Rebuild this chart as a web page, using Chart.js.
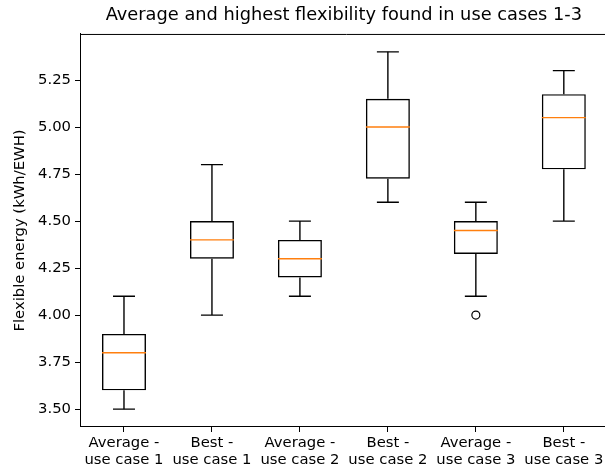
<!DOCTYPE html>
<html>
<head>
<meta charset="utf-8">
<script src="https://cdn.jsdelivr.net/npm/chart.js@4/dist/chart.umd.min.js"></script>
<style>
  html, body { margin: 0; padding: 0; overflow: hidden; background: #fff; }
  #wrap { width: 613px; height: 470px; }
</style>
</head>
<body>
<div id="wrap"><canvas id="chart" width="613" height="470"></canvas></div>
<script>
// box plot values
const categories = [
    ['Average -', 'use case 1'],
    ['Best -', 'use case 1'],
    ['Average -', 'use case 2'],
    ['Best -', 'use case 2'],
    ['Average -', 'use case 3'],
    ['Best -', 'use case 3']
];
const whiskerLow  = [3.5, 4.0, 4.1, 4.6,   4.1,   4.5];
const q1          = [3.6, 4.3, 4.2, 4.725, 4.325, 4.775];
const medians     = [3.8, 4.4, 4.3, 5.0,   4.45,  5.05];
const q3          = [3.9, 4.5, 4.4, 5.15,  4.5,   5.175];
const whiskerHigh = [4.1, 4.8, 4.5, 5.4,   4.6,   5.3];
const outliers    = [[], [], [], [], [4.0], []];
const yTicks = [3.5, 3.75, 4.0, 4.25, 4.5, 4.75, 5.0, 5.25];

const FONT = 'DejaVu Sans';
const positions = categories.map((c, i) => i + 1);

// segments separated by gaps
function segments(list) {
    const out = [];
    list.forEach(seg => {
        out.push(seg[0], seg[1], { x: seg[0].x, y: null });
    });
    return out;
}

const whiskerData = segments(positions.flatMap((p, i) => [
    [{ x: p, y: whiskerLow[i] }, { x: p, y: q1[i] }],
    [{ x: p, y: q3[i] }, { x: p, y: whiskerHigh[i] }]
]));
const capData = segments(positions.flatMap((p, i) => [
    [{ x: p - 0.125, y: whiskerLow[i] }, { x: p + 0.125, y: whiskerLow[i] }],
    [{ x: p - 0.125, y: whiskerHigh[i] }, { x: p + 0.125, y: whiskerHigh[i] }]
]));
const medianData = segments(positions.map((p, i) =>
    [{ x: p - 0.25, y: medians[i] }, { x: p + 0.25, y: medians[i] }]
));
const outlierData = positions.flatMap((p, i) => outliers[i].map(v => ({ x: p, y: v })));

// top spine (right one falls outside the picture)
const framePlugin = {
    id: 'frame',
    afterDraw(chart) {
        const { ctx, chartArea: a } = chart;
        ctx.save();
        ctx.strokeStyle = '#000';
        ctx.lineWidth = 1;
        ctx.beginPath();
        ctx.moveTo(a.left, a.top + 0.5);
        ctx.lineTo(chart.width, a.top + 0.5);
        ctx.stroke();
        ctx.restore();
    }
};

const lineStyle = {
    type: 'line',
    borderColor: '#000',
    borderWidth: 1.4,
    pointRadius: 0,
    spanGaps: false,
    fill: false
};

new Chart(document.getElementById('chart'), {
    type: 'bar',
    data: {
        datasets: [
            {
                type: 'bar',
                data: positions.map((p, i) => ({ x: p, y: [q1[i], q3[i]] })),
                backgroundColor: 'rgba(0,0,0,0)',
                borderColor: '#000',
                borderWidth: 1.4,
                borderSkipped: false,
                barPercentage: 0.5,
                categoryPercentage: 1,
                order: 4
            },
            { ...lineStyle, data: whiskerData, order: 3 },
            { ...lineStyle, data: capData, order: 2 },
            { ...lineStyle, data: medianData, borderColor: '#ff7f0e', order: 1 },
            {
                type: 'scatter',
                data: outlierData,
                pointStyle: 'circle',
                pointRadius: 4,
                borderColor: '#000',
                borderWidth: 1.2,
                backgroundColor: 'rgba(0,0,0,0)',
                order: 0
            }
        ]
    },
    options: {
        responsive: false,
        animation: false,
        layout: { padding: 0 },
        plugins: {
            legend: { display: false },
            tooltip: { enabled: false },
            title: {
                display: true,
                fullSize: false,
                text: 'Average and highest flexibility found in use cases 1-3',
                color: '#000',
                font: { family: FONT, size: 17.8, weight: 'normal' },
                padding: { top: 5, bottom: 7.6 }
            }
        },
        scales: {
            x: {
                type: 'linear',
                offset: false,
                min: 0.5,
                max: 6.5,
                afterBuildTicks: axis => { axis.ticks = positions.map(v => ({ value: v })); },
                afterFit: axis => {
                    axis.height = 43;
                    axis.paddingLeft = 0;
                    axis.paddingRight = 0;
                },
                grid: { offset: false, drawOnChartArea: false, drawTicks: true, tickLength: 5, tickColor: '#000' },
                border: { display: true, color: '#000', width: 1 },
                ticks: {
                    color: '#000',
                    padding: 3,
                    maxRotation: 0,
                    autoSkip: false,
                    font: { family: FONT, size: 14.8, lineHeight: 1.13 },
                    callback: (value, index) => categories[index]
                }
            },
            y: {
                type: 'linear',
                min: 3.405,
                max: 5.495,
                afterBuildTicks: axis => { axis.ticks = yTicks.map(v => ({ value: v })); },
                afterFit: axis => { axis.width = 80; },
                grid: { drawOnChartArea: false, drawTicks: true, tickLength: 5, tickColor: '#000' },
                border: { display: true, color: '#000', width: 1 },
                ticks: {
                    color: '#000',
                    padding: 4,
                    font: { family: FONT, size: 14.8 },
                    callback: v => v.toFixed(2)
                },
                title: {
                    display: true,
                    text: 'Flexible energy (kWh/EWH)',
                    color: '#000',
                    font: { family: FONT, size: 14.8 },
                    padding: { top: 11, bottom: 0 }
                }
            }
        }
    },
    plugins: [framePlugin]
});
</script>
</body>
</html>
